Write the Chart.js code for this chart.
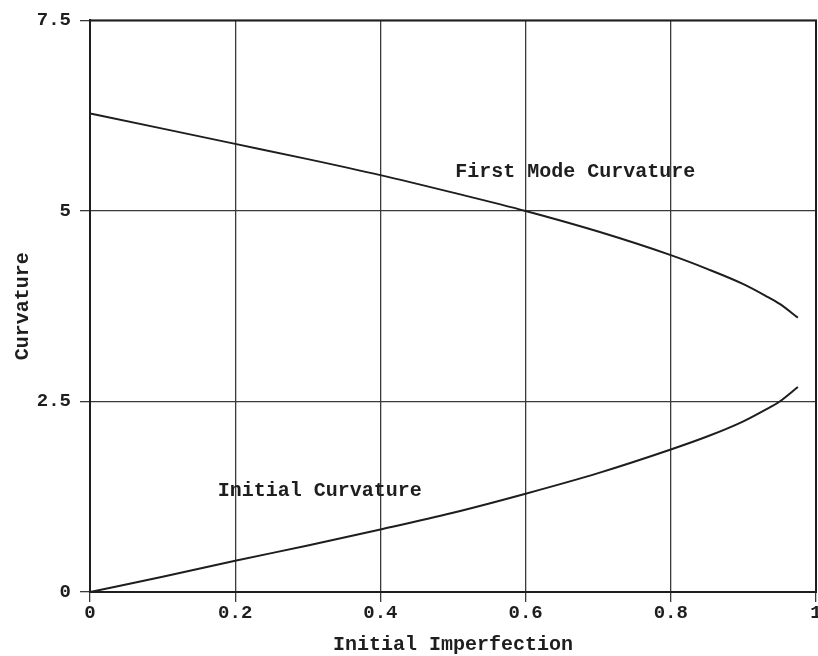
<!DOCTYPE html>
<html>
<head>
<meta charset="utf-8">
<script src="https://cdn.jsdelivr.net/npm/chart.js@4"></script>
<style>
  html, body { margin: 0; padding: 0; background: #fff; overflow: hidden; }
  #wrap { width: 840px; height: 656px; }
</style>
</head>
<body>
<div id="wrap"><canvas id="c" width="840" height="656"></canvas></div>
<script>
// ---- data ----
const imperfection = [0, 0.1, 0.2, 0.3, 0.4, 0.5, 0.6, 0.7, 0.8, 0.85, 0.9, 0.93, 0.95, 0.975];
const firstModeCurvature = [6.28, 6.08, 5.88, 5.68, 5.47, 5.24, 5.00, 4.73, 4.42, 4.24, 4.04, 3.89, 3.78, 3.60];
const initialCurvature   = [0.00, 0.20, 0.41, 0.61, 0.82, 1.04, 1.29, 1.56, 1.87, 2.04, 2.24, 2.39, 2.50, 2.69];
const xTickLabels = ['0', '0.2', '0.4', '0.6', '0.8', '1'];
const yTickLabels = ['0', '2.5', '5', '7.5'];
const xTitle = 'Initial Imperfection';
const yTitle = 'Curvature';
const seriesNames = ['First Mode Curvature', 'Initial Curvature'];

const FONT = "'Liberation Mono', 'DejaVu Sans Mono', monospace";
const INK = '#1e1e1e';

const toPoints = (xs, ys) => xs.map((x, i) => ({ x: x, y: ys[i] }));

const curveLabelPlugin = {
  id: 'curveLabels',
  afterDatasetsDraw(chart) {
    const { ctx, scales } = chart;
    const anchors = [
      { text: seriesNames[0], x: 0.503, y: 5.51 },
      { text: seriesNames[1], x: 0.176, y: 1.33 }
    ];
    ctx.save();
    ctx.font = "bold 20px " + FONT;
    ctx.fillStyle = INK;
    ctx.textAlign = 'left';
    ctx.textBaseline = 'middle';
    anchors.forEach(a => {
      ctx.fillText(a.text, scales.x.getPixelForValue(a.x), scales.y.getPixelForValue(a.y));
    });
    ctx.restore();
  }
};

const framePlugin = {
  id: 'frame',
  afterDraw(chart) {
    const a = chart.chartArea;
    const ctx = chart.ctx;
    ctx.save();
    ctx.strokeStyle = INK;
    ctx.lineWidth = 2;
    ctx.strokeRect(a.left, a.top, a.right - a.left, a.bottom - a.top);
    ctx.restore();
  }
};

new Chart(document.getElementById('c'), {
  type: 'line',
  data: {
    datasets: [
      {
        label: seriesNames[0],
        data: toPoints(imperfection, firstModeCurvature),
        borderColor: INK,
        borderWidth: 2,
        pointRadius: 0,
        cubicInterpolationMode: 'monotone',
        fill: false
      },
      {
        label: seriesNames[1],
        data: toPoints(imperfection, initialCurvature),
        borderColor: INK,
        borderWidth: 2,
        pointRadius: 0,
        cubicInterpolationMode: 'monotone',
        fill: false
      }
    ]
  },
  options: {
    responsive: false,
    animation: false,
    layout: { padding: { left: 0, right: 24, top: 18, bottom: 0 } },
    plugins: { legend: { display: false }, tooltip: { enabled: false } },
    scales: {
      x: {
        type: 'linear',
        min: 0,
        max: 1,
        afterFit(s) { s.height = 64; },
        afterBuildTicks(s) { s.ticks = xTickLabels.map(t => ({ value: parseFloat(t) })); },
        ticks: {
          autoSkip: false,
          maxRotation: 0,
          padding: 0,
          color: INK,
          font: { family: FONT, size: 19, weight: 'bold' },
          callback: (v, i) => xTickLabels[i]
        },
        grid: { color: '#3a3a3a', lineWidth: 1.3, tickLength: 10, tickColor: '#3a3a3a' },
        border: { display: true, color: INK, width: 2 },
        title: {
          display: true,
          text: xTitle,
          color: INK,
          font: { family: FONT, size: 20, weight: 'bold' },
          padding: { top: 0, bottom: -1 }
        }
      },
      y: {
        type: 'linear',
        min: 0,
        max: 7.5,
        afterFit(s) { s.width = 90; },
        afterBuildTicks(s) { s.ticks = yTickLabels.map(t => ({ value: parseFloat(t) })); },
        ticks: {
          autoSkip: false,
          padding: 9,
          color: INK,
          font: { family: FONT, size: 19, weight: 'bold' },
          callback: (v, i) => yTickLabels[i]
        },
        grid: { color: '#3a3a3a', lineWidth: 1.3, tickLength: 10, tickColor: '#3a3a3a' },
        border: { display: true, color: INK, width: 2 },
        title: {
          display: true,
          text: yTitle,
          color: INK,
          font: { family: FONT, size: 20, weight: 'bold' },
          padding: { top: 11, bottom: 0 }
        }
      }
    }
  },
  plugins: [curveLabelPlugin, framePlugin]
});
</script>
</body>
</html>
